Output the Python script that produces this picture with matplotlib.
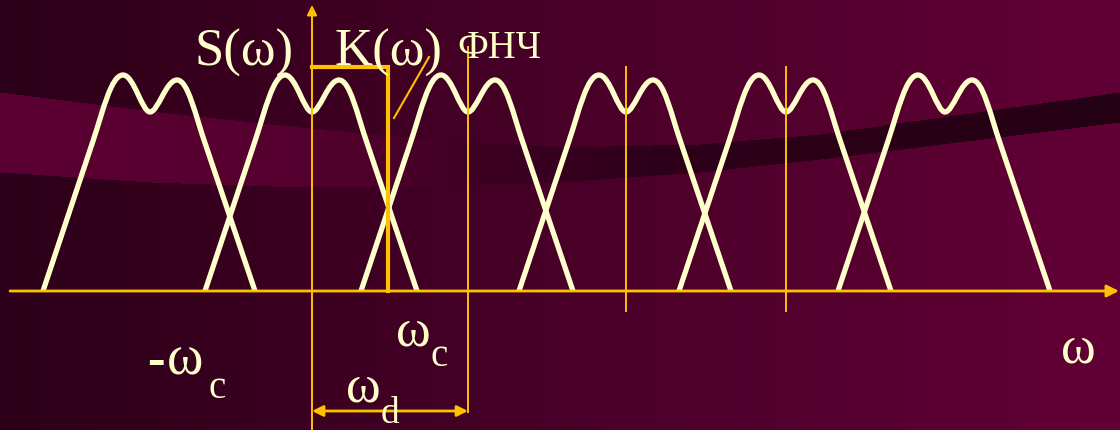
import numpy as np
import matplotlib.pyplot as plt
from matplotlib.path import Path
from matplotlib.patches import PathPatch

# --- data (picture coordinates, px; omega axis at y = 292) ---
axis_y = 292
origin_x = 312
centers = [150, 312, 468, 626, 786, 945]          # copies of S(w), step ~ w_d
# one copy of the spectrum: offset from centre, height above axis
shape_dx = [-107, -57, -47, -39, -27, -16, -8, 0, 8, 16, 27, 38, 45, 55, 105]
shape_h = [0, 150, 180, 216, 216, 216, 179, 179, 179, 211, 211, 211, 177, 148, 0]
shape_codes = ([Path.MOVETO, Path.LINETO] + [Path.CURVE4] * 12 + [Path.LINETO])
cutoff_x = 388                                    # K(w) LPF edge (w_c)
cutoff_h = 224
wd_x = 468                                        # w_d
marks_x = [626, 786]

CREAM = "#FFFFCC"
ORANGE = "#FFC000"
SERIF = "Liberation Serif"

# --- background ---
W, H = 1120, 431
xx = np.arange(W)
yy = np.arange(H)[:, None]
bg_r = np.interp(xx, [0, 560, 1120], [44, 72, 98])
band_r = np.interp(xx, [0, 300, 480, 650, 1120], [92, 85, 62, 46, 36])
top = np.interp(xx, [0, 150, 300, 450, 560, 700, 820, 1120], [93, 112, 128, 142, 148, 145, 135, 93])
bot = np.interp(xx, [0, 150, 300, 450, 560, 700, 820, 1120], [173, 183, 188, 187, 183, 173, 160, 123])
inband = (yy > top) & (yy < bot)
r = np.where(inband, band_r, bg_r)
img = np.stack([r, 0 * r, r * 0.55], axis=-1) / 255.0

fig = plt.figure(figsize=(11.2, 4.31), dpi=100)
ax = fig.add_axes([0, 0, 1, 1])
ax.imshow(img, extent=[0, W, H, 0], aspect="auto", zorder=0)
ax.set_xlim(0, W)
ax.set_ylim(H, 0)
ax.axis("off")

# spectrum copies
for c in centers:
    verts = [(c + dx, axis_y - h) for dx, h in zip(shape_dx, shape_h)]
    ax.add_patch(PathPatch(Path(verts, shape_codes), fill=False, edgecolor=CREAM,
                           lw=3.8, capstyle="butt", joinstyle="round", zorder=2))

# axes
ax.annotate("", xy=(1119, axis_y), xytext=(10, axis_y),
            arrowprops=dict(arrowstyle="-|>", color=ORANGE, lw=2, mutation_scale=18,
                            shrinkA=0, shrinkB=0), zorder=3)
ax.annotate("", xy=(origin_x, 6), xytext=(origin_x, H),
            arrowprops=dict(arrowstyle="-|>", color=ORANGE, lw=1.4, mutation_scale=15,
                            shrinkA=0, shrinkB=0), zorder=3)

# K(w) filter box
ax.plot([origin_x, cutoff_x, cutoff_x], [axis_y - cutoff_h, axis_y - cutoff_h, axis_y],
        color=ORANGE, lw=3, solid_joinstyle="miter", zorder=3)
ax.plot([394, 429], [119, 58], color=ORANGE, lw=1.5, zorder=3)

# guide lines
ax.plot([wd_x, wd_x], [48, 413], color=ORANGE, lw=1.4, zorder=3)
for mx in marks_x:
    ax.plot([mx, mx], [68, 312], color=ORANGE, lw=1.4, zorder=3)

# w_d dimension arrow
ax.annotate("", xy=(wd_x, 412), xytext=(origin_x, 412),
            arrowprops=dict(arrowstyle="<|-|>", color=ORANGE, lw=2, mutation_scale=16,
                            shrinkA=0, shrinkB=0), zorder=3)

# labels
txt = dict(color=CREAM, family=SERIF, va="baseline", ha="left", zorder=4)
ax.text(195, 66, "S(ω)", fontsize=38, **txt)
ax.text(335, 66, "K(ω)", fontsize=38, **txt)
ax.text(457, 58, "ФНЧ", fontsize=28, **txt)
ax.text(396, 346, "ω", fontsize=38, **txt)
ax.text(431, 366, "c", fontsize=28, **txt)
ax.text(147, 375, "-", fontsize=38, fontweight="bold", **txt)
ax.text(167, 375, "ω", fontsize=40, **txt)
ax.text(209, 398, "c", fontsize=28, **txt)
ax.text(346, 402, "ω", fontsize=38, **txt)
ax.text(381, 423, "d", fontsize=27, **txt)
ax.text(1061, 363, "ω", fontsize=38, **txt)

fig.savefig("out.png", dpi=100)
